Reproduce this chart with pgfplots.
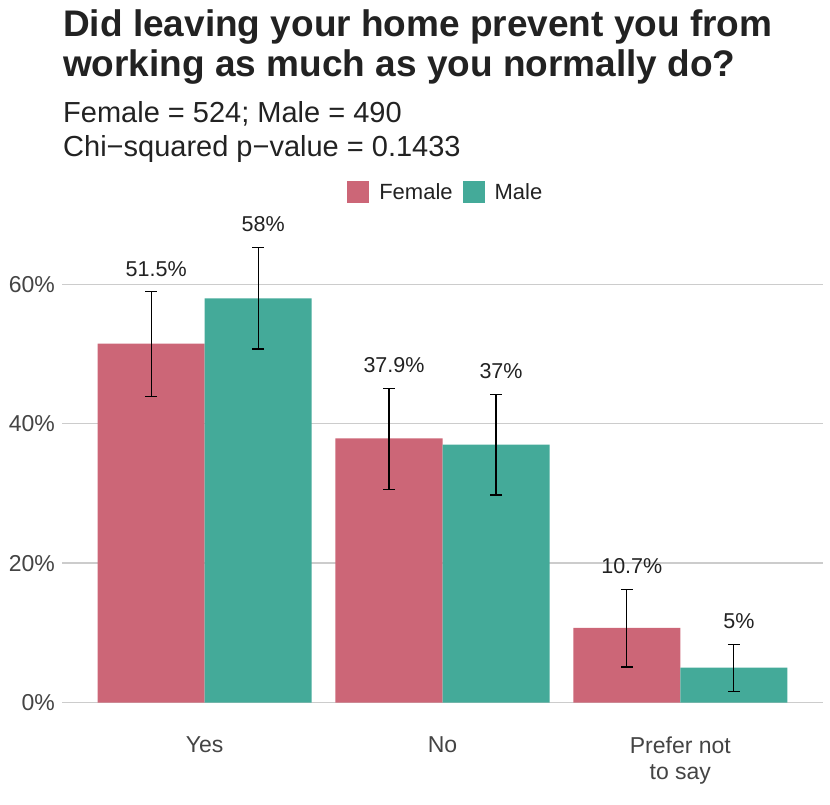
\documentclass[border=0pt]{standalone}
\usepackage{fontspec}
\setmainfont{Liberation Sans}
\usepackage{pgfplots}
\pgfplotsset{compat=1.18}
\definecolor{fem}{HTML}{CC6677}
\definecolor{mal}{HTML}{44AA99}
\definecolor{gridc}{HTML}{CCCCCC}
\definecolor{tickc}{HTML}{444444}
\definecolor{txt}{HTML}{222222}
\pgfplotsset{sqlegend/.style={legend image code/.code={\fill[##1] (0bp,-11bp) rectangle (22bp,11bp);}}}
\begin{document}
\begin{tikzpicture}[x=1bp,y=1bp]
\useasboundingbox (0,0) rectangle (830,805);
\node[anchor=base west, inner sep=0, font=\fontsize{37bp}{40bp}\selectfont\bfseries, text=txt] at (63,768.5) {Did leaving your home prevent you from};
\node[anchor=base west, inner sep=0, font=\fontsize{37bp}{40bp}\selectfont\bfseries, text=txt] at (63,728) {working as much as you normally do?};
\node[anchor=base west, inner sep=0, font=\fontsize{29bp}{32bp}\selectfont, text=txt] at (63,682) {Female = 524; Male = 490};
\node[anchor=base west, inner sep=0, font=\fontsize{29bp}{32bp}\selectfont, text=txt] at (63,648) {Chi−squared p−value = 0.1433};
\begin{axis}[
  at={(62bp,79.7bp)}, anchor=south west,
  scale only axis, width=761bp, height=500.9bp,
  xmin=0.4, xmax=3.6, ymin=-3.27, ymax=68.6,
  axis line style={draw=none}, major tick length=0pt,
  ytick={0,20,40,60}, yticklabels={0\%,20\%,40\%,60\%},
  xtick={1,2,3}, xticklabels={Yes,No,{Prefer not\\to say}},
  xticklabel style={align=center, font=\fontsize{23bp}{26bp}\selectfont, text=tickc, anchor=north, inner sep=0pt, yshift=-11bp},
  yticklabel style={font=\fontsize{23bp}{26bp}\selectfont, text=tickc, anchor=east, inner sep=0pt, xshift=-7bp},
  ymajorgrids, grid style={gridc, line width=1.3bp},
  clip=false,
  legend style={at={(rel axis cs:0.503,1.0647)}, anchor=center, draw=none, fill=none,
    font=\fontsize{22bp}{24bp}\selectfont, text=txt, inner sep=0pt,
    nodes={inner sep=0pt},
    /tikz/every odd column/.append style={column sep=10bp},
    /tikz/every even column/.append style={column sep=10bp}},
  legend columns=2, legend cell align=left,
]
\addplot[ybar, bar width=0.45, bar shift=0pt, fill=fem, draw=none, sqlegend,
  error bars/.cd, y dir=both, y explicit, error mark=|,
  error bar style={black, line width=1.2bp},
  error mark options={black, line width=1.2bp, mark size=6bp}]
  coordinates {(0.775,51.5) += (0,7.44) -= (0,7.57)
               (1.775,37.9) += (0,7.18) -= (0,7.37)
               (2.775,10.7) += (0,5.48) -= (0,5.61)};
\addlegendentry{Female}
\addplot[ybar, bar width=0.45, bar shift=0pt, fill=mal, draw=none, sqlegend,
  error bars/.cd, y dir=both, y explicit, error mark=|,
  error bar style={black, line width=1.2bp},
  error mark options={black, line width=1.2bp, mark size=6bp}]
  coordinates {(1.225,58.0) += (0,7.25) -= (0,7.28)
               (2.225,37.0) += (0,7.16) -= (0,7.23)
               (3.225,5.0) += (0,3.29) -= (0,3.45)};
\addlegendentry{Male}
\addplot[draw=none, mark=none, nodes near coords, point meta=explicit symbolic,
  nodes near coords style={anchor=center, font=\fontsize{21.5bp}{24bp}\selectfont, text=txt, inner sep=0pt, xshift=5bp},
  forget plot]
  coordinates {(0.775,62.2) [51.5\%] (1.225,68.6) [58\%]
               (1.775,48.45) [37.9\%] (2.225,47.5) [37\%]
               (2.775,19.6) [10.7\%] (3.225,11.7) [5\%]};
\end{axis}
\end{tikzpicture}
\end{document}
